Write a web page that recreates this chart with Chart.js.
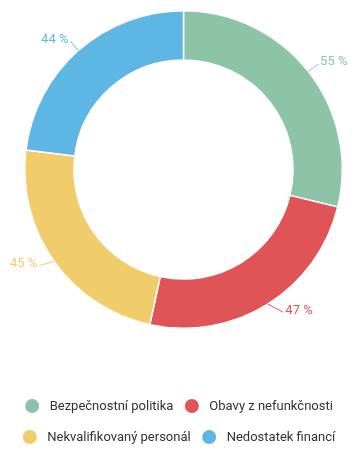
<!DOCTYPE html>
<html>
<head>
<meta charset="utf-8">
<script src="https://cdn.jsdelivr.net/npm/chart.js@4/dist/chart.umd.min.js"></script>
<style>
  html, body { margin: 0; padding: 0; background: #ffffff; }
  #wrap { width: 358px; height: 454px; }
</style>
</head>
<body>
<div id="wrap"><canvas id="c" width="358" height="454"></canvas></div>
<script>
const categories = ["Bezpečnostní politika", "Obavy z nefunkčnosti", "Nekvalifikovaný personál", "Nedostatek financí"];
const values = [55, 47, 45, 44];
const valueLabels = ["55 %", "47 %", "45 %", "44 %"];
const colors = ["#8dc4a8", "#e05356", "#f0cc6b", "#5eb6e4"];

const FONT = "Roboto, 'Noto Sans', sans-serif";

const sliceLabels = {
  id: 'sliceLabels',
  afterDatasetsDraw(chart) {
    const ctx = chart.ctx;
    const meta = chart.getDatasetMeta(0);
    ctx.save();
    ctx.font = "400 13px " + FONT;
    meta.data.forEach((arc, i) => {
      const p = arc.getProps(['x', 'y', 'startAngle', 'endAngle', 'outerRadius'], true);
      const mid = (p.startAngle + p.endAngle) / 2;
      const dx = Math.cos(mid), dy = Math.sin(mid);
      const R = p.outerRadius;
      const x1 = p.x + dx * R, y1 = p.y + dy * R;
      const r2 = R + 15;
      let ly = p.y + dy * r2;
      if (dy > 0) ly -= 6.5;
      const off = Math.sqrt(Math.max(r2 * r2 - (ly - p.y) * (ly - p.y), 0));
      const right = dx >= 0;
      const lx = right ? p.x + off : p.x - off;
      ctx.strokeStyle = colors[i];
      ctx.lineWidth = 1;
      ctx.beginPath();
      ctx.moveTo(x1, y1);
      ctx.lineTo(right ? lx - 2 : lx + 2, ly + 2);
      ctx.stroke();
      ctx.fillStyle = colors[i];
      ctx.textAlign = right ? 'left' : 'right';
      ctx.textBaseline = 'middle';
      ctx.fillText(valueLabels[i], lx, ly);
    });
    ctx.restore();
  }
};

const customLegend = {
  id: 'customLegend',
  afterDraw(chart) {
    const ctx = chart.ctx;
    ctx.save();
    ctx.font = "400 13px " + FONT;
    const r = 7, gapText = 10.5, gapItem = 11.5;
    const rows = [[0, 1], [2, 3]];
    const rowY = [406, 437];
    const W = chart.width;
    rows.forEach((row, ri) => {
      const widths = row.map(i => 2 * r + gapText + ctx.measureText(categories[i]).width);
      const total = widths.reduce((a, b) => a + b, 0) + gapItem * (row.length - 1);
      let x = (W - total) / 2;
      row.forEach((i, k) => {
        ctx.fillStyle = colors[i];
        ctx.beginPath();
        ctx.arc(x + r, rowY[ri], r, 0, Math.PI * 2);
        ctx.fill();
        ctx.fillStyle = '#333333';
        ctx.textAlign = 'left';
        ctx.textBaseline = 'middle';
        ctx.fillText(categories[i], x + 2 * r + gapText, rowY[ri] + 0.5);
        x += widths[k] + gapItem;
      });
    });
    ctx.restore();
  }
};

new Chart(document.getElementById('c'), {
  type: 'doughnut',
  data: {
    labels: categories,
    datasets: [{
      data: values,
      backgroundColor: colors,
      borderColor: '#ffffff',
      borderWidth: 1.5,
      hoverOffset: 0
    }]
  },
  options: {
    responsive: false,
    devicePixelRatio: 1,
    animation: false,
    events: [],
    cutout: '69%',
    layout: { padding: { left: 24, right: 15, top: 10, bottom: 125 } },
    plugins: {
      legend: { display: false },
      tooltip: { enabled: false },
      title: { display: false }
    }
  },
  plugins: [sliceLabels, customLegend]
});
</script>
</body>
</html>
